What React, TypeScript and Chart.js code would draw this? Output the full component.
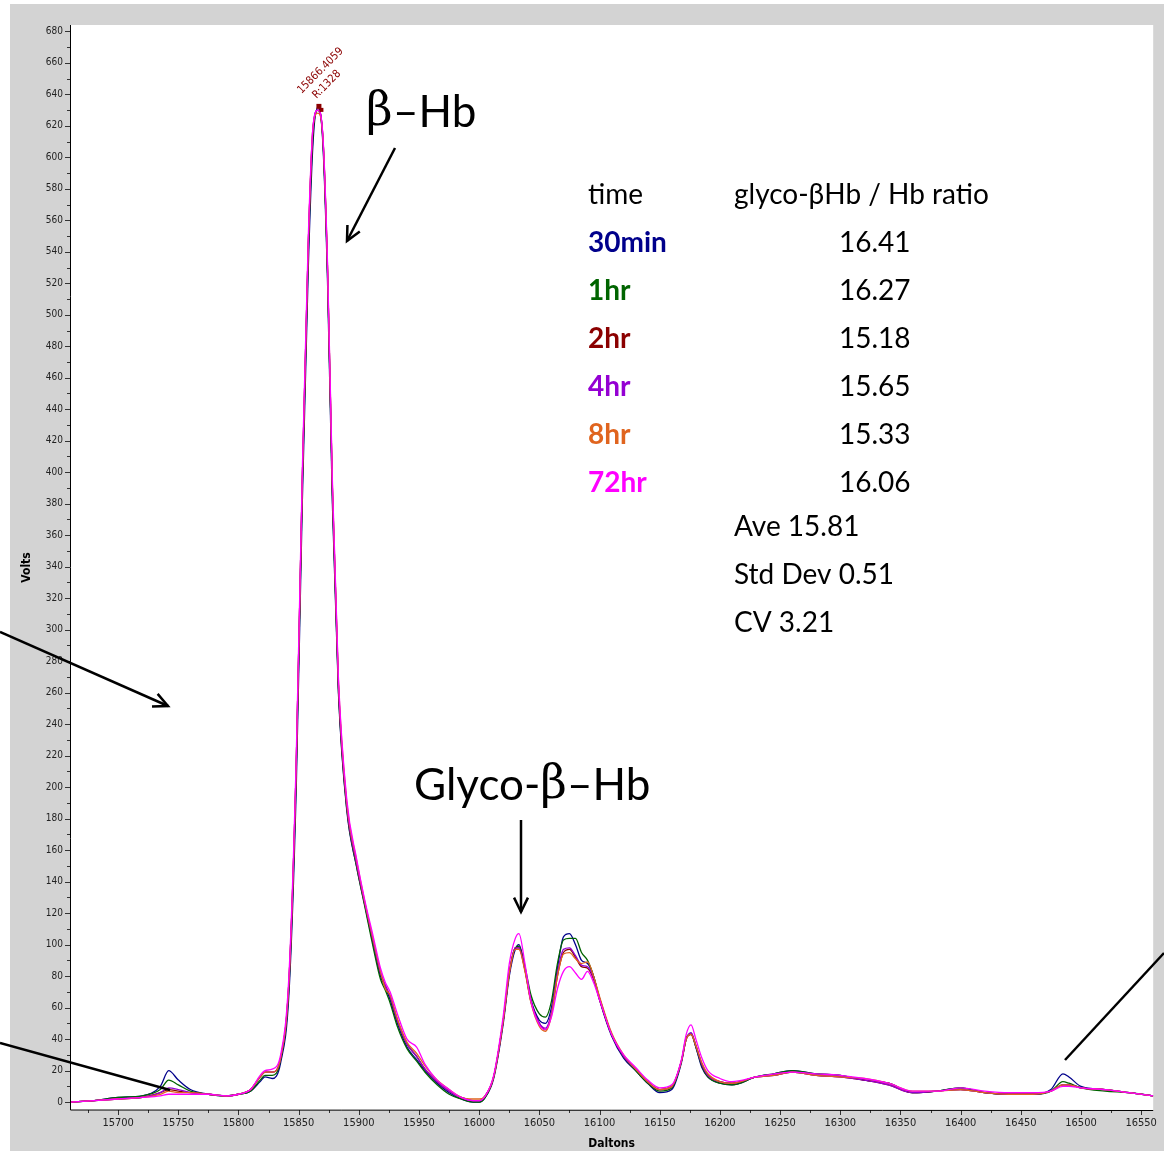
import React, { useEffect, useRef } from "react";
import { Chart, registerables } from "chart.js";
Chart.register(...registerables);

const xs = [15660,15680,15700,15720,15735,15742,15750,15760,15775,15790,15800,15810,15818,15822,15828,15835,15842,15848,15853,15858,15862,15866,15870,15874,15878,15883,15890,15898,15905,15912,15918,15922,15926,15932,15940,15948,15955,15965,15975,15985,15995,16000,16005,16012,16020,16025,16030,16033,16038,16043,16050,16055,16060,16065,16070,16075,16080,16085,16090,16095,16100,16110,16120,16130,16140,16150,16160,16168,16172,16176,16180,16185,16190,16200,16210,16230,16245,16260,16280,16300,16320,16340,16360,16380,16400,16420,16440,16460,16475,16485,16490,16500,16520,16540,16560];

const s30min = [0,1,3,4,10,20,14,8,5,4,5,7,13,16,15,25,70,200,380,530,610,632,610,520,380,260,185,150,125,100,80,73,65,50,35,27,20,12,6,2,0,0,3,15,50,80,97,100,85,65,52,50,60,85,105,107,100,90,88,80,65,42,28,20,12,6,8,25,40,44,35,22,16,12,11,16,18,20,18,17,14,12,6,7,9,6,5,5,8,18,16,10,8,6,4];
const s1hr = [0,1,3,4,8,14,11,7,5,4,5,7,14,17,17,27,75,210,390,540,615,630,612,525,385,262,186,150,124,98,78,71,63,48,34,26,19,11,5,2,0,0,3,16,52,82,98,99,86,68,56,54,64,88,103,104,104,95,90,80,66,43,29,20,12,7,9,26,41,43,35,23,16,12,11,16,18,20,18,17,14,12,6,7,9,6,5,5,7,13,12,9,7,6,4];
const s2hr = [0,1,2,3,6,8,7,6,5,4,5,8,16,19,19,28,78,215,395,545,618,630,614,528,390,265,188,152,126,102,82,74,67,52,37,29,21,13,7,3,1,1,4,16,52,82,98,98,84,64,50,46,56,80,95,97,92,86,85,78,65,43,29,21,13,8,10,26,40,43,36,24,17,13,12,16,17,19,17,16,14,11,6,7,8,6,5,5,7,11,11,9,8,6,4];
const s4hr = [0,1,2,3,6,9,8,6,5,4,5,8,16,19,19,28,78,215,395,545,620,630,614,528,390,265,188,152,126,102,82,74,67,52,37,29,21,13,7,3,1,1,4,16,52,82,98,98,84,64,50,47,57,82,97,98,93,87,86,79,66,43,29,21,13,8,10,26,40,44,36,24,17,13,12,16,17,19,17,16,14,11,6,7,8,6,5,5,7,11,11,9,8,6,4];
const s8hr = [0,1,2,3,5,7,6,6,5,4,5,8,16,19,19,28,78,215,395,545,620,628,614,530,392,268,190,154,127,103,83,72,68,53,38,31,23,14,8,3,2,2,4,16,52,82,97,97,83,63,48,45,55,80,94,95,91,88,89,80,67,44,30,21,13,8,10,26,40,43,36,25,18,13,12,16,17,19,17,16,15,12,7,7,8,6,5,5,7,11,11,9,8,6,4];
const s72hr = [0,1,2,3,4,5,5,5,5,4,5,8,17,20,21,30,82,220,400,550,620,630,615,532,395,270,192,155,128,105,85,76,70,56,40,35,24,14,8,3,1,1,4,17,55,88,104,107,88,64,49,46,54,72,83,86,82,78,83,76,65,43,30,22,14,9,11,27,43,49,40,28,20,15,13,16,18,19,18,17,15,12,7,7,9,7,6,6,7,10,10,9,8,6,4];

const seriesNames = ["30min","1hr","2hr","4hr","8hr","72hr"];
const seriesColors = ["#00008b","#006400","#8b0000","#9400d3","#e0641e","#ff00ff"];
const ratios = ["16.41","16.27","15.18","15.65","15.33","16.06"];
const xTicks = [15700,15750,15800,15850,15900,15950,16000,16050,16100,16150,16200,16250,16300,16350,16400,16450,16500,16550];
const yTicks = Array.from({ length: 35 }, (_, i) => i * 20);

function arrow(ctx: CanvasRenderingContext2D, x1: number, y1: number, x2: number, y2: number, head: boolean) {
  ctx.beginPath(); ctx.moveTo(x1, y1); ctx.lineTo(x2, y2); ctx.stroke();
  if (!head) return;
  const a = Math.atan2(y2 - y1, x2 - x1), L = 16;
  ctx.beginPath();
  ctx.moveTo(x2 - L * Math.cos(a - 0.45), y2 - L * Math.sin(a - 0.45));
  ctx.lineTo(x2, y2);
  ctx.lineTo(x2 - L * Math.cos(a + 0.45), y2 - L * Math.sin(a + 0.45));
  ctx.stroke();
}

const deco = {
  id: "deco",
  beforeDraw(chart: any) {
    const { ctx, chartArea: a } = chart;
    ctx.save();
    ctx.fillStyle = "#d3d3d3";
    ctx.fillRect(10, 4, chart.width - 10, chart.height - 4);
    ctx.fillStyle = "#fff";
    ctx.fillRect(a.left, a.top, a.right - a.left, a.bottom - a.top);
    ctx.restore();
  },
  afterDraw(chart: any) {
    const { ctx, chartArea: a, scales } = chart;
    const xs_ = scales.x, ys = scales.y;
    ctx.save();
    ctx.strokeStyle = "#333"; ctx.lineWidth = 1;
    for (let v = 0; v <= 680; v += 10) {
      const y = Math.round(ys.getPixelForValue(v)) + 0.5;
      ctx.beginPath(); ctx.moveTo(a.left, y); ctx.lineTo(a.left - (v % 20 ? 3 : 5), y); ctx.stroke();
    }
    for (let v = 15675; v <= 16550; v += 25) {
      const x = Math.round(xs_.getPixelForValue(v)) + 0.5;
      ctx.beginPath(); ctx.moveTo(x, a.bottom); ctx.lineTo(x, a.bottom + (v % 50 ? 3 : 5)); ctx.stroke();
    }
    ctx.strokeStyle = "#000";
    ctx.beginPath(); ctx.moveTo(a.left + 0.5, a.top); ctx.lineTo(a.left + 0.5, a.bottom); ctx.lineTo(a.right, a.bottom + 0.5); ctx.stroke();
    const px = xs_.getPixelForValue(15866.4059), py = ys.getPixelForValue(632);
    ctx.fillStyle = "#8b0000";
    ctx.fillRect(px - 2, py - 3, 5, 5);
    ctx.fillRect(px + 1, py + 1, 4, 4);
    ctx.font = "11px 'DejaVu Sans Condensed', 'Liberation Sans'";
    ctx.save(); ctx.translate(px - 17, py - 13); ctx.rotate(-Math.PI / 4);
    ctx.fillText("15866.4059", 0, 0); ctx.restore();
    ctx.save(); ctx.translate(px - 2, py - 8); ctx.rotate(-Math.PI / 4);
    ctx.fillText("R:1328", 0, 0); ctx.restore();
    ctx.fillStyle = "#000";
    ctx.textBaseline = "middle";
    ctx.font = "46px 'DejaVu Serif', serif";
    ctx.fillText("β", 366, 113);
    ctx.font = "44px Lato, 'Open Sans'";
    ctx.fillText("–Hb", 393, 113);
    ctx.fillText("Glyco-", 414, 786);
    const gw = ctx.measureText("Glyco-").width;
    ctx.font = "46px 'DejaVu Serif', serif";
    ctx.fillText("β", 414 + gw, 786);
    const bw = ctx.measureText("β").width;
    ctx.font = "44px Lato, 'Open Sans'";
    ctx.fillText("–Hb", 414 + gw + bw, 786);
    ctx.font = "28px Lato, 'Open Sans'";
    ctx.fillText("time", 588, 195);
    ctx.fillText("glyco-βHb / Hb ratio", 734, 195);
    seriesNames.forEach((n, i) => {
      const y = 243 + i * 48;
      ctx.font = "bold 28px Lato, 'Open Sans'";
      ctx.fillStyle = seriesColors[i];
      ctx.fillText(n, 588, y);
      ctx.font = "28px Lato, 'Open Sans'";
      ctx.fillStyle = "#000";
      ctx.fillText(ratios[i], 839, y);
    });
    ctx.fillText("Ave 15.81", 734, 527);
    ctx.fillText("Std Dev 0.51", 734, 575);
    ctx.fillText("CV 3.21", 734, 623);
    ctx.strokeStyle = "#000"; ctx.lineWidth = 2.5;
    arrow(ctx, 395, 148, 347, 241, true);
    arrow(ctx, 521, 820, 521, 912, true);
    arrow(ctx, 0, 632, 168, 706, true);
    arrow(ctx, 0, 1043, 170, 1090, false);
    arrow(ctx, 1164, 953, 1065, 1060, false);
    ctx.restore();
  },
};

export default function App() {
  const ref = useRef<HTMLCanvasElement>(null);
  useEffect(() => {
    document.body.style.margin = "0";
    const order = [5, 4, 3, 2, 1, 0];
    const all = [s30min, s1hr, s2hr, s4hr, s8hr, s72hr];
    const chart = new Chart(ref.current!, {
      type: "line",
      data: {
        datasets: order.map((i) => ({
          label: seriesNames[i],
          data: xs.map((x, j) => ({ x, y: all[i][j] })),
          borderColor: seriesColors[i],
          borderWidth: 1.3,
          pointRadius: 0,
          cubicInterpolationMode: "monotone" as const,
        })),
      },
      options: {
        animation: false,
        responsive: false,
        layout: { padding: { left: 16, right: 9, top: 25, bottom: 0 } },
        plugins: { legend: { display: false }, tooltip: { enabled: false } },
        scales: {
          x: {
            type: "linear", min: 15660, max: 16560,
            afterBuildTicks: (s: any) => { s.ticks = xTicks.map((v) => ({ value: v })); },
            afterFit: (s: any) => { s.height = 41; },
            grid: { display: false, drawTicks: false },
            border: { display: false },
            ticks: { color: "#222", font: { size: 11, family: "'DejaVu Sans Condensed', 'Liberation Sans'" }, padding: 7, maxRotation: 0, callback: (v: any) => String(v) },
            title: { display: true, text: "Daltons", color: "#000", font: { size: 12, weight: "bold", family: "'DejaVu Sans Condensed', 'Liberation Sans'" }, padding: { top: 2, bottom: 0 } },
          },
          y: {
            min: -5, max: 684,
            afterBuildTicks: (s: any) => { s.ticks = yTicks.map((v) => ({ value: v })); },
            afterFit: (s: any) => { s.width = 54; },
            grid: { display: false, drawTicks: false },
            border: { display: false },
            ticks: { color: "#222", font: { size: 10, family: "'DejaVu Sans Condensed', 'Liberation Sans'" }, padding: 7 },
            title: { display: true, text: "Volts", color: "#000", font: { size: 12, weight: "bold", family: "'DejaVu Sans Condensed', 'Liberation Sans'" } },
          },
        },
      },
      plugins: [deco],
    });
    return () => chart.destroy();
  }, []);
  return <canvas ref={ref} width={1164} height={1151} style={{ display: "block" }} />;
}
